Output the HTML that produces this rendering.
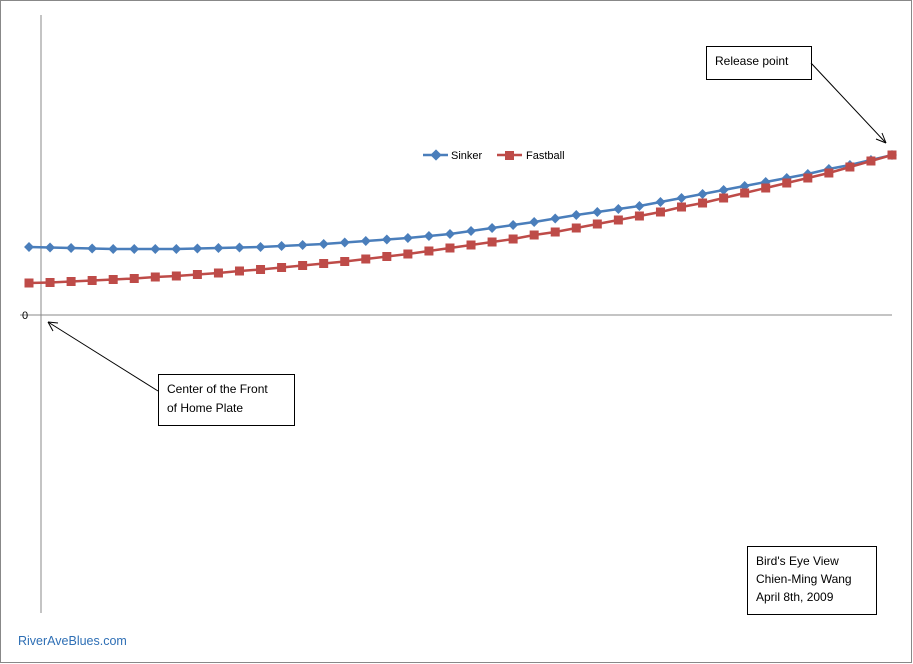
<!DOCTYPE html>
<html><head><meta charset="utf-8"><style>
body{margin:0;background:#fff;}
svg{display:block;font-family:"Liberation Sans",Calibri,sans-serif;}
</style></head><body>
<svg width="913" height="664" viewBox="0 0 913 664">
<rect x="0.5" y="0.5" width="911" height="662" fill="#fff" stroke="#888"/>
<line x1="41" y1="15" x2="41" y2="613" stroke="#888"/>
<line x1="20" y1="315" x2="892" y2="315" stroke="#888"/>
<text x="22" y="319" font-size="11">0</text>
<g id="series"></g>
<g>
 <g>
  <line x1="423" y1="155" x2="448" y2="155" stroke="#4a7ebb" stroke-width="2.5"/>
  <rect x="432" y="151" width="8" height="8" fill="#4a7ebb" transform="rotate(45 436 155)"/>
  <text x="451" y="159" font-size="11">Sinker</text>
 </g>
 <g>
  <line x1="497" y1="155" x2="522" y2="155" stroke="#be4b48" stroke-width="2.5"/>
  <rect x="505" y="151" width="9" height="9" fill="#be4b48"/>
  <text x="526" y="159" font-size="11">Fastball</text>
 </g>
</g>
<g>
 <rect x="706.5" y="46.5" width="105" height="33" fill="#fff" stroke="#000"/>
 <text x="715" y="65" font-size="12">Release point</text>
 <line x1="811" y1="63" x2="886" y2="143" stroke="#000"/>
 <path d="M886 143 L876 139 M886 143 L882 133" stroke="#000" fill="none"/>
</g>
<g>
 <rect x="158.5" y="374.5" width="136" height="51" fill="#fff" stroke="#000"/>
 <text x="167" y="393" font-size="12">Center of the Front</text>
 <text x="167" y="412" font-size="12">of Home Plate</text>
 <line x1="158" y1="391" x2="48" y2="322" stroke="#000"/>
 <path d="M48 322 L53 331 M48 322 L58 323" stroke="#000" fill="none"/>
</g>
<g>
 <rect x="747.5" y="546.5" width="129" height="68" fill="#fff" stroke="#000"/>
 <text x="756" y="565" font-size="12">Bird's Eye View</text>
 <text x="756" y="583" font-size="12">Chien-Ming Wang</text>
 <text x="756" y="601" font-size="12">April 8th, 2009</text>
</g>
<text x="18" y="645" font-size="12.5" fill="#2e6fb5">RiverAveBlues.com</text>
</svg>
<script>
const sinker=[68,67.5,67,66.5,66,66,66,66,66.5,67,67.5,68,69,70,71,72.5,74,75.5,77,79,81,84,87,90,93,96.5,100,103,106,109,113,117,121,125,129,133,137,141,146,150,155,160];
const fastball=[32,32.5,33.5,34.5,35.5,36.5,38,39,40.5,42,44,45.5,47.5,49.5,51.5,53.5,56,58.5,61,64,67,70,73,76,80,83,87,91,95,99,103,108,112,117,122,127,132,137,142,148,154,160];
const xAt=i=>29+i*(863/41);
const yAt=v=>315-v;
const g=document.getElementById('series');
const NS='http://www.w3.org/2000/svg';
function draw(data,color,kind,name){
  const pl=document.createElementNS(NS,'polyline');
  pl.setAttribute('points',data.map((v,i)=>xAt(i)+','+yAt(v)).join(' '));
  pl.setAttribute('fill','none');pl.setAttribute('stroke',color);pl.setAttribute('stroke-width','2.5');
  
  
  g.appendChild(pl);
  data.forEach((v,i)=>{
    const r=document.createElementNS(NS,'rect');
    const x=xAt(i),y=yAt(v);
    if(kind==='d'){r.setAttribute('x',x-3.5);r.setAttribute('y',y-3.5);r.setAttribute('width',7);r.setAttribute('height',7);r.setAttribute('transform','rotate(45 '+x+' '+y+')');}
    else{r.setAttribute('x',x-4.5);r.setAttribute('y',y-4.5);r.setAttribute('width',9);r.setAttribute('height',9);}
    r.setAttribute('fill',color);
    
    
    g.appendChild(r);
  });
}
draw(sinker,'#4a7ebb','d','sinker');
draw(fastball,'#be4b48','s','fastball');
</script>
</body></html>
